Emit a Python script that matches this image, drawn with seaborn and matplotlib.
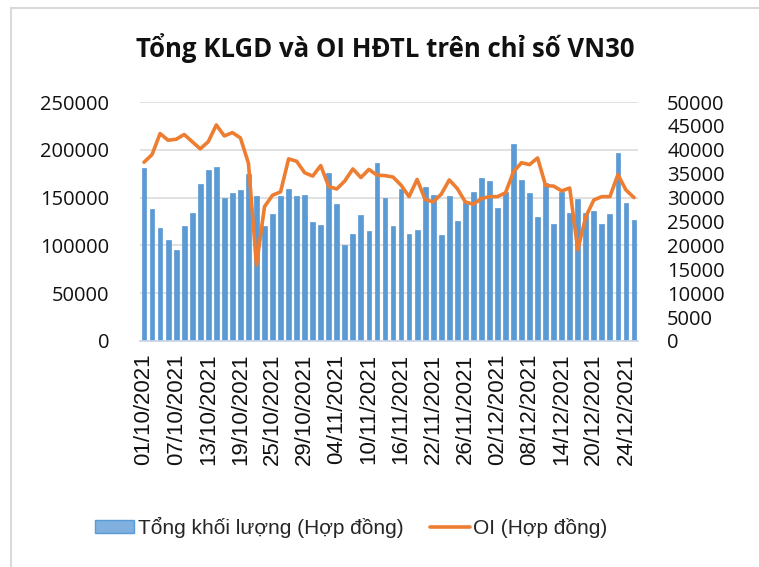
import numpy as np
import pandas as pd
import matplotlib
matplotlib.use("Agg")
import matplotlib.pyplot as plt
import seaborn as sns
from matplotlib.patches import Rectangle
from matplotlib.lines import Line2D

# Ngày giao dịch (01/10/2021 - 27/12/2021)
dates = pd.bdate_range("2021-10-01", periods=62)
date_labels = [d.strftime("%d/%m/%Y") for d in dates]

# Tổng khối lượng giao dịch (hợp đồng)
volume = [
    181200, 138300, 117700, 106100, 95000, 119800, 134100, 163800, 178400, 181900,
    150100, 154300, 158200, 174600, 151500, 120500, 133000, 151900, 158500, 151200,
    152600, 124700, 121500, 175300, 143500, 100900, 112400, 132300, 114900, 185800,
    150100, 120800, 158500, 112400, 116600, 161300, 152900, 110700, 151500, 125700,
    145600, 155400, 170700, 167200, 139300, 156100, 205700, 168300, 155000, 130200,
    165500, 122200, 156100, 133400, 148700, 133400, 136200, 122600, 132700, 196900,
    144600, 126400,
]

# OI - khối lượng mở (hợp đồng)
oi = [
    37400, 39000, 43400, 42000, 42200, 43200, 41700, 40200, 41700, 45200,
    42900, 43600, 42500, 37200, 15900, 28100, 30500, 31200, 38100, 37600,
    35200, 34500, 36700, 32300, 31800, 33500, 36000, 34200, 35900, 34700,
    34600, 34300, 32600, 30200, 33800, 29600, 29100, 30700, 33700, 31900,
    29100, 28600, 29800, 30200, 30200, 31000, 35400, 37300, 36900, 38300,
    32500, 32400, 31400, 32000, 19100, 26000, 29500, 30200, 30200, 34800,
    31600, 30000,
]

df = pd.DataFrame({"pos": np.arange(len(volume)), "date": date_labels,
                   "volume": volume, "oi": oi})

BLUE = "#5B9BD5"
ORANGE = "#ED7D31"
TICK_FONT = "Open Sans"
LABEL_FONT = "Liberation Sans"

sns.set_theme(style="white")
plt.rcParams["font.family"] = ["Open Sans", "DejaVu Sans"]

fig = plt.figure(figsize=(7.59, 5.67), dpi=100)
ax = fig.add_axes([140 / 759, 1 - 341 / 567, 498 / 759, 239 / 567])
ax2 = ax.twinx()

sns.barplot(data=df, x="pos", y="volume", color=BLUE, width=0.6,
            saturation=1, edgecolor="#4A8ACB", linewidth=0.4, ax=ax, zorder=2)
sns.lineplot(data=df, x="pos", y="oi", color=ORANGE, linewidth=2.6, ax=ax2,
             zorder=3)

ax.set_xlim(-0.5, len(volume) - 0.5)
ax.set_ylim(0, 250000)
ax2.set_ylim(0, 50000)
ax.set_yticks(np.arange(0, 250001, 50000))
ax2.set_yticks(np.arange(0, 50001, 5000))
ax.grid(axis="y", color="#D9D9D9", linewidth=1.1, zorder=0)
ax.set_axisbelow(True)

ticks = list(range(0, len(volume), 4))
ax.set_xticks(ticks)
ax.set_xticklabels([date_labels[i] for i in ticks], rotation=90,
                   fontsize=16, family=LABEL_FONT, color="#111111")
ax.set_xlabel("")
ax.set_ylabel("")
ax2.set_ylabel("")

for a in (ax, ax2):
    for s in a.spines.values():
        s.set_visible(False)
ax.spines["bottom"].set_visible(True)
ax.spines["bottom"].set_color("#C9D6E6")
ax.spines["bottom"].set_linestyle((0, (2, 1)))

ax.tick_params(axis="y", length=0, pad=22, labelsize=14.5, labelcolor="#111111")
ax2.tick_params(axis="y", length=0, pad=21, labelsize=14.5, labelcolor="#111111")
ax.tick_params(axis="x", length=0, pad=9)
for lab in ax.get_yticklabels() + ax2.get_yticklabels():
    lab.set_family(TICK_FONT)

fig.text(385 / 759, 1 - 48 / 567, "Tổng KLGD và OI HĐTL trên chỉ số VN30",
         ha="center", va="center", fontsize=18.5, fontweight="bold",
         family=TICK_FONT, color="#111111")

handles = [Rectangle((0, 0), 1, 1, facecolor="#7FB0E0", edgecolor=BLUE, linewidth=1),
           Line2D([0], [0], color=ORANGE, linewidth=2.6)]
leg = fig.legend(handles, ["Tổng khối lượng (Hợp đồng)", "OI (Hợp đồng)"],
                 loc="center", bbox_to_anchor=(351 / 759, 1 - 527 / 567), ncol=2,
                 frameon=False, handlelength=1.9, handleheight=0.6,
                 handletextpad=0.15, columnspacing=1.3,
                 prop={"family": LABEL_FONT, "size": 15})

fig.patches.append(Rectangle((11 / 759, -0.05), 1.1, 1 - 8 / 567 + 0.05,
                             transform=fig.transFigure, fill=False,
                             edgecolor="#D9D9D9", linewidth=1.5))

fig.savefig("out.png", dpi=100)
